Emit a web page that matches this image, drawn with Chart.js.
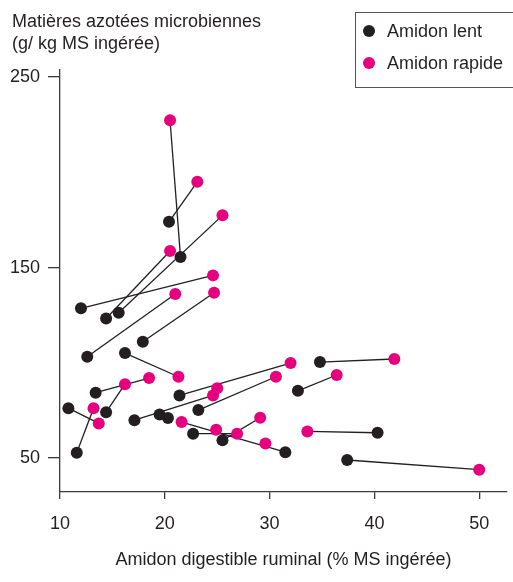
<!DOCTYPE html>
<html>
<head>
<meta charset="utf-8">
<script src="https://cdn.jsdelivr.net/npm/chart.js@4.4.1/dist/chart.umd.min.js"></script>
<style>
  html, body { margin: 0; padding: 0; background: #fff; }
  #wrap { width: 513px; height: 582px; }
</style>
</head>
<body>
<div id="wrap"><canvas id="chart"></canvas></div>
<script>
// Amidon lent (black) and amidon rapide (pink); index i of each pair belong to the same trial
const slowX = [21.5, 20.4, 15.6, 14.4, 12.0, 12.6, 17.9, 16.2, 13.4, 14.4, 10.8, 11.6, 21.4, 23.2, 17.1, 22.7, 34.8, 32.7, 40.3, 37.4, 31.5, 25.5, 19.5, 20.3];
const slowY = [155.5, 174.0, 126.3, 123.3, 128.6, 103.2, 111.1, 105.1, 84.3, 74.1, 76.2, 52.8, 82.9, 75.2, 69.9, 62.8, 100.4, 85.3, 63.3, 49.0, 53.1, 59.3, 72.9, 71.0];
const rapidX = [20.5, 23.1, 25.5, 20.5, 24.6, 21.0, 24.7, 21.3, 18.5, 16.2, 13.7, 13.2, 32.0, 30.6, 24.6, 26.9, 41.9, 36.4, 33.6, 50.0, 21.6, 29.1, 25.0, 24.9, 29.6];
const rapidY = [227.3, 195.0, 177.4, 158.7, 145.9, 136.1, 136.8, 92.7, 92.0, 88.8, 68.2, 76.2, 99.9, 92.7, 82.9, 62.8, 102.0, 93.6, 64.0, 43.9, 68.9, 71.2, 86.6, 64.9, 57.7];
// [slow index, rapid index] joined by a segment
const links = [[0,0],[1,1],[2,2],[3,3],[4,4],[5,5],[6,6],[7,7],[8,8],[9,9],[10,10],[11,11],
               [12,12],[13,13],[14,14],[15,15],[16,16],[17,17],[18,18],[19,19],[20,20],[21,21]];

const xTicks = [10, 20, 30, 40, 50];
const yTicks = [50, 150, 250];
const yTitle = ["Matières azotées microbiennes", "(g/ kg MS ingérée)"];
const xTitle = "Amidon digestible ruminal (% MS ingérée)";
const seriesLabels = ["Amidon lent", "Amidon rapide"];

const BLACK = "#231f20";
const PINK = "#e6007e";
const AXIS = "#3a3a3a";
const FONT = "'Liberation Sans', Arial, sans-serif";

const toPoints = (xs, ys) => xs.map((x, i) => ({ x: x, y: ys[i] }));
const slowPts = toPoints(slowX, slowY);
const rapidPts = toPoints(rapidX, rapidY);

const datasets = links.map(([a, b]) => ({
    type: "line",
    data: [slowPts[a], rapidPts[b]],
    borderColor: BLACK,
    borderWidth: 1.3,
    pointRadius: 0,
    fill: false,
    order: 3,
}));

datasets.push({
    type: "scatter",
    label: seriesLabels[0],
    data: slowPts,
    backgroundColor: BLACK,
    borderWidth: 0,
    pointRadius: 6,
    order: 2,
});
datasets.push({
    type: "scatter",
    label: seriesLabels[1],
    data: rapidPts,
    backgroundColor: PINK,
    borderWidth: 0,
    pointRadius: 6,
    order: 1,
});

// y title in the top left corner and a boxed legend top right
const extras = {
    id: "extras",
    afterDraw(chart) {
        const ctx = chart.ctx;
        ctx.save();
        ctx.font = "18px " + FONT;
        ctx.fillStyle = BLACK;
        ctx.textBaseline = "alphabetic";
        ctx.textAlign = "left";
        ctx.fillText(yTitle[0], 12, 27);
        ctx.fillText(yTitle[1], 12, 49);

        ctx.strokeStyle = "#555";
        ctx.lineWidth = 1;
        ctx.strokeRect(355.5, 12.5, 170, 75);

        const colors = [BLACK, PINK];
        const rows = [31, 63];
        seriesLabels.forEach((label, i) => {
            ctx.fillStyle = colors[i];
            ctx.beginPath();
            ctx.arc(369, rows[i], 6, 0, Math.PI * 2);
            ctx.fill();
            ctx.fillStyle = BLACK;
            ctx.textBaseline = "middle";
            ctx.fillText(label, 387, rows[i] + 1);
        });
        ctx.restore();
    },
};

new Chart(document.getElementById("chart"), {
    type: "scatter",
    data: { datasets },
    plugins: [extras],
    options: {
        responsive: true,
        maintainAspectRatio: false,
        animation: false,
        layout: { padding: { top: 70, right: 0, left: 0, bottom: 0 } },
        plugins: {
            legend: { display: false },
            tooltip: { enabled: false },
        },
        scales: {
            x: {
                type: "linear",
                min: 10,
                max: 52.65,
                afterBuildTicks: (scale) => {
                    scale.ticks = xTicks.map((v) => ({ value: v }));
                },
                afterFit: (scale) => {
                    scale.height = 90;
                },
                ticks: {
                    color: BLACK,
                    font: { family: FONT, size: 18 },
                    padding: 14,
                    maxRotation: 0,
                },
                grid: {
                    drawOnChartArea: false,
                    drawTicks: true,
                    tickLength: 7,
                    color: AXIS,
                    lineWidth: 1.3,
                },
                border: { display: true, color: AXIS, width: 1.3 },
                title: {
                    display: true,
                    text: xTitle,
                    color: BLACK,
                    font: { family: FONT, size: 18 },
                    padding: { top: 0, bottom: 11 },
                },
            },
            y: {
                type: "linear",
                min: 32.2,
                max: 253.7,
                afterBuildTicks: (scale) => {
                    scale.ticks = yTicks.map((v) => ({ value: v }));
                },
                afterFit: (scale) => {
                    scale.width = 60;
                },
                ticks: {
                    color: BLACK,
                    font: { family: FONT, size: 18 },
                    padding: 8,
                },
                grid: {
                    drawOnChartArea: false,
                    drawTicks: true,
                    tickLength: 12,
                    color: AXIS,
                    lineWidth: 1.3,
                },
                border: { display: true, color: AXIS, width: 1.3 },
            },
        },
    },
});
</script>
</body>
</html>
